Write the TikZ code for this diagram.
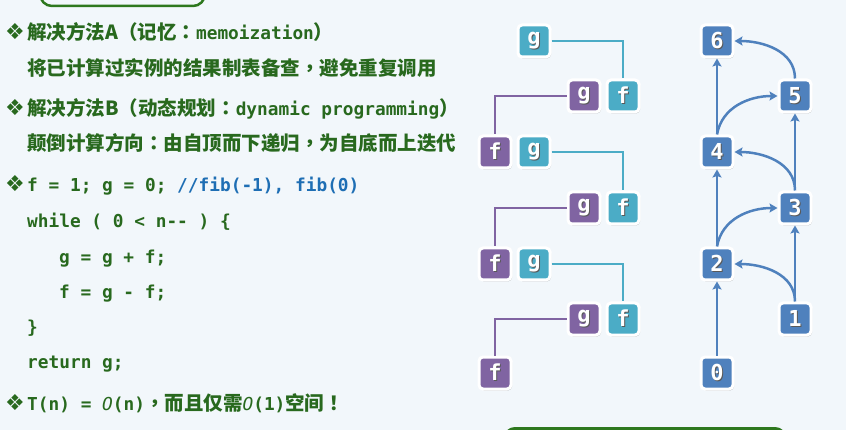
\documentclass[tikz,border=0pt]{standalone}
\usepackage{fontspec}
\usetikzlibrary{arrows.meta,shadows}
\newfontfamily\cjk{Noto Sans CJK SC}
\newfontfamily\cjkpunct{Noto Sans CJK TC}
\newfontfamily\mono{DejaVu Sans Mono}
\newfontfamily\symb{DejaVu Sans}
\definecolor{bg}{RGB}{242,247,251}
\definecolor{dkgreen}{RGB}{40,105,30}
\definecolor{frame}{RGB}{46,120,30}
\definecolor{cblue}{RGB}{30,110,180}
\definecolor{teal}{RGB}{75,172,198}
\definecolor{purp}{RGB}{128,100,162}
\definecolor{nblue}{RGB}{79,129,189}
% text helpers
\newcommand\zh[1]{{\cjk\bfseries\fontsize{19.5}{22}\selectfont #1}}
\newcommand\pu[1]{{\cjkpunct\bfseries\fontsize{19.5}{22}\selectfont #1}}
\newcommand\cd[1]{{\mono\bfseries\fontsize{17.8}{22}\selectfont #1}}
\newcommand\bigO{{\mono\itshape\fontsize{17.8}{22}\selectfont O}}
\newcommand\bul{{\symb\fontsize{22}{22}\selectfont ❖}}
\newcommand\shtxt[1]{\rlap{\kern1pt\raisebox{-1pt}{\color{black!65}#1}}#1}
\begin{document}
\begin{tikzpicture}[x=1pt,y=-1pt,
  txt/.style={anchor=base west,inner sep=0,text=dkgreen},
  blt/.style={anchor=base west,inner sep=0,text=dkgreen},
  tile/.style={draw=white,line width=3pt,rounded corners=4pt,minimum size=32pt,
    inner sep=0,text=white,font=\mono\bfseries\fontsize{22}{22}\selectfont,
    drop shadow={shadow xshift=1pt,shadow yshift=-1.5pt,opacity=0.25,fill=black}},
  tt/.style={tile,fill=teal},
  tp/.style={tile,fill=purp},
  tb/.style={tile,fill=nblue},
  tline/.style={teal,line width=2.5pt},
  pline/.style={purp,line width=2.5pt},
  arr/.style={nblue,line width=2.5pt,-{Stealth[length=8pt,width=9pt,inset=1.5pt]}}]
\useasboundingbox (0,0) rectangle (846,430);
\fill[bg] (0,0) rectangle (846,430);
\begin{scope}
\clip (0,0) rectangle (846,430);
\draw[frame,line width=2.5pt,rounded corners=12pt] (40,-40) rectangle (205,6);
\draw[frame,line width=3pt,rounded corners=10pt] (505,428.5) rectangle (785,470);
\end{scope}

% left column: text and code
\node[blt] (b1) at (5,40) {\bul};
\node[txt] (t1) at (27,40) {\zh{解决方法A}\pu{（}\zh{记忆}\pu{：}\cd{memoization}\pu{）}};
\node[txt] (t2) at (27,76) {\zh{将已计算过实例的结果制表备查}\pu{，}\zh{避免重复调用}};
\node[blt] (b2) at (5,116) {\bul};
\node[txt] (t3) at (27,116) {\zh{解决方法B}\pu{（}\zh{动态规划}\pu{：}\cd{dynamic programming}\pu{）}};
\node[txt] (t4) at (27,151) {\zh{颠倒计算方向}\pu{：}\zh{由自顶而下递归}\pu{，}\zh{为自底而上迭代}};
\node[blt] (b3) at (5,192) {\bul};
\node[txt] (c1) at (27,192) {\cd{f = 1; g = 0; \textcolor{cblue}{//fib(-1), fib(0)}}};
\node[txt] (c2) at (27,228) {\cd{while ( 0 < n-{}- ) \{}};
\node[txt] (c3) at (59,264) {\cd{g = g + f;}};
\node[txt] (c4) at (59,299) {\cd{f = g - f;}};
\node[txt] (c5) at (27,334) {\cd{\}}};
\node[txt] (c6) at (27,368) {\cd{return g;}};
\node[blt] (b4) at (5,410) {\bul};
\node[txt] (t5) at (27,410) {\cd{T(n) = }\bigO\cd{(n)}\pu{，}\zh{而且仅需}\bigO\cd{(1)}\zh{空间}\pu{！}};

% f/g register tiles
\node[tt] (g0) at (534,41) {\shtxt{g}};
\node[tp] (g1) at (584,96) {\shtxt{g}};
\node[tt] (f1) at (623,96) {\shtxt{f}};
\node[tp] (f2) at (495,152) {\shtxt{f}};
\node[tt] (g2) at (534,152) {\shtxt{g}};
\node[tp] (g3) at (584,208) {\shtxt{g}};
\node[tt] (f3) at (623,208) {\shtxt{f}};
\node[tp] (f4) at (495,264) {\shtxt{f}};
\node[tt] (g4) at (534,264) {\shtxt{g}};
\node[tp] (g5) at (584,319) {\shtxt{g}};
\node[tt] (f5) at (623,319) {\shtxt{f}};
\node[tp] (f6) at (495,373) {\shtxt{f}};
\draw[tline] (g0.east) -| (f1.north);
\draw[pline] (g1.west) -| (f2.north);
\draw[tline] (g2.east) -| (f3.north);
\draw[pline] (g3.west) -| (f4.north);
\draw[tline] (g4.east) -| (f5.north);
\draw[pline] (g5.west) -| (f6.north);

% fib dependency DAG
\node[tb] (n6) at (717,41) {\shtxt{6}};
\node[tb] (n5) at (795,96) {\shtxt{5}};
\node[tb] (n4) at (717,152) {\shtxt{4}};
\node[tb] (n3) at (795,208) {\shtxt{3}};
\node[tb] (n2) at (717,264) {\shtxt{2}};
\node[tb] (n1) at (795,319) {\shtxt{1}};
\node[tb] (n0) at (717,373) {\shtxt{0}};
\draw[arr] (n0) -- (n2);
\draw[arr] (n2) -- (n4);
\draw[arr] (n4) -- (n6);
\draw[arr] (n1) -- (n3);
\draw[arr] (n3) -- (n5);
\draw[arr] (n1.north) to[out=90,in=0] (n2.east);
\draw[arr] (n3.north) to[out=90,in=0] (n4.east);
\draw[arr] (n5.north) to[out=90,in=0] (n6.east);
\draw[arr] (n2.north) to[out=80,in=180] (n3.west);
\draw[arr] (n4.north) to[out=80,in=180] (n5.west);
\end{tikzpicture}
\end{document}
